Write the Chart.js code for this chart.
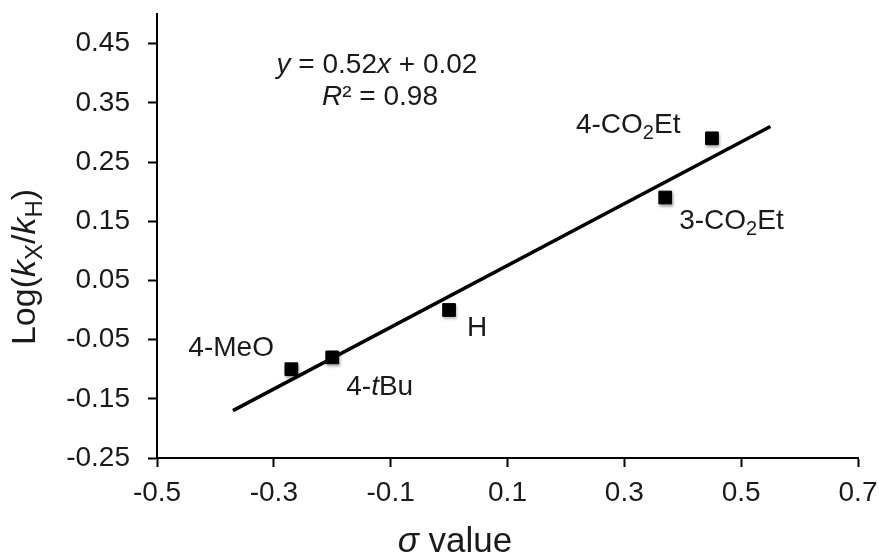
<!DOCTYPE html>
<html>
<head>
<meta charset="utf-8">
<script src="https://cdn.jsdelivr.net/npm/chart.js@4/dist/chart.umd.min.js"></script>
<style>
  html, body { margin:0; padding:0; background:#fff; }
  #wrap { width:879px; height:555px; position:relative; }
</style>
</head>
<body>
<div id="wrap"><canvas id="hammett"></canvas></div>
<script>
// ---- data ----
const xTicks = [-0.5, -0.3, -0.1, 0.1, 0.3, 0.5, 0.7];
const yTicks = [-0.25, -0.15, -0.05, 0.05, 0.15, 0.25, 0.35, 0.45];
const sigma = [-0.27, -0.20, 0.00, 0.37, 0.45];
const logRatio = [-0.10, -0.08, 0.00, 0.19, 0.29];
// *..* = italic, _c = subscript char
const substituents = ['4-MeO', '4-*t*Bu', 'H', '3-CO_2Et', '4-CO_2Et'];
const trendX = [-0.37, 0.55];
const trendY = [-0.17, 0.31];
const fitText = ['*y* = 0.52*x* + 0.02', '*R*² = 0.98'];

const FONT = '"Liberation Sans", Arial, Helvetica, sans-serif';
const TXT = '#1a1a1a';

// ---- tiny rich-text helper (italic + subscript) ----
function parseRich(s) {
  const segs = []; let italic = false, buf = '';
  const flush = () => { if (buf) segs.push({ t: buf, it: italic, sub: false }); buf = ''; };
  for (let i = 0; i < s.length; i++) {
    const c = s[i];
    if (c === '*') { flush(); italic = !italic; }
    else if (c === '_') { flush(); segs.push({ t: s[++i], it: italic, sub: true }); }
    else buf += c;
  }
  flush();
  return segs;
}
function segFont(seg, size) {
  const sz = seg.sub ? Math.round(size * 0.7) : size;
  return (seg.it ? 'italic ' : '') + sz + 'px ' + FONT;
}
function drawRich(ctx, s, x, y, size, align) {
  const segs = parseRich(s);
  let w = 0;
  segs.forEach(g => { ctx.font = segFont(g, size); g.w = ctx.measureText(g.t).width; w += g.w; });
  let cx = align === 'center' ? x - w / 2 : align === 'right' ? x - w : x;
  ctx.textAlign = 'left'; ctx.textBaseline = 'alphabetic'; ctx.fillStyle = TXT;
  segs.forEach(g => {
    ctx.font = segFont(g, size);
    ctx.fillText(g.t, cx, g.sub ? y + size * 0.22 : y);
    cx += g.w;
  });
}

// label offsets from point centre to label left/baseline
const LABEL_OFF = [[-103, -13], [14, 38], [18, 26], [14, 31], [-136, -5]];

const textPlugin = {
  id: 'textPlugin',
  beforeDatasetDraw(chart, args) {
    if (args.index === 0) {
      const ctx = chart.ctx;
      ctx.save();
      ctx.shadowColor = 'rgba(0,0,0,0.35)'; ctx.shadowBlur = 3; ctx.shadowOffsetX = 1; ctx.shadowOffsetY = 2;
    }
  },
  afterDatasetDraw(chart, args) { if (args.index === 0) chart.ctx.restore(); },
  afterDraw(chart) {
    const { ctx, chartArea: a } = chart;
    const meta = chart.getDatasetMeta(0);
    ctx.save();
    meta.data.forEach((pt, i) => {
      drawRich(ctx, substituents[i], pt.x + LABEL_OFF[i][0], pt.y + LABEL_OFF[i][1], 28, 'left');
    });
    // fit equation
    drawRich(ctx, fitText[0], a.left + 220, 73, 28, 'center');
    drawRich(ctx, fitText[1], a.left + 223, 105, 28, 'center');
    // x title
    drawRich(ctx, '*σ* value', a.left + 298, 552, 35, 'center');
    // y title
    ctx.translate(35, 267);
    ctx.rotate(-Math.PI / 2);
    drawRich(ctx, 'Log(*k*_X/*k*_H)', 0, 0, 34, 'center');
    ctx.restore();
  }
};

const axisStyle = {
  border: { display: true, color: '#000', width: 2 },
  grid: { drawOnChartArea: false, drawTicks: true, tickLength: 9, color: '#000', tickWidth: 2 },
};

new Chart(document.getElementById('hammett'), {
  type: 'scatter',
  data: {
    datasets: [
      { label: 'data', data: sigma.map((v, i) => ({ x: v, y: logRatio[i] })),
        pointStyle: 'rect', pointRadius: 9, pointHoverRadius: 9,
        backgroundColor: '#000', borderColor: '#000', borderWidth: 1 },
      { label: 'fit', data: trendX.map((v, i) => ({ x: v, y: trendY[i] })),
        showLine: true, pointRadius: 0, borderColor: '#000', borderWidth: 3.5 }
    ]
  },
  options: {
    responsive: true, maintainAspectRatio: false, animation: false,
    layout: { padding: { left: 0, top: 14, right: 21, bottom: 0 } },
    plugins: { legend: { display: false }, tooltip: { enabled: false } },
    scales: {
      x: { type: 'linear', min: -0.5, max: 0.7, ...axisStyle,
        afterBuildTicks: s => { s.ticks = xTicks.map(v => ({ value: v })); },
        afterFit: s => { s.height = 97; s.paddingLeft = 0; s.paddingRight = 0; },
        ticks: { padding: 9, color: TXT, font: { family: FONT, size: 28 }, callback: v => v.toFixed(1) } },
      y: { type: 'linear', min: -0.25, max: 0.5, ...axisStyle,
        afterBuildTicks: s => { s.ticks = yTicks.map(v => ({ value: v })); },
        afterFit: s => { s.width = 157; s.paddingTop = 0; s.paddingBottom = 0; },
        ticks: { padding: 18, color: TXT, font: { family: FONT, size: 28 }, callback: v => v.toFixed(2) } }
    }
  },
  plugins: [textPlugin]
});
</script>
</body>
</html>
